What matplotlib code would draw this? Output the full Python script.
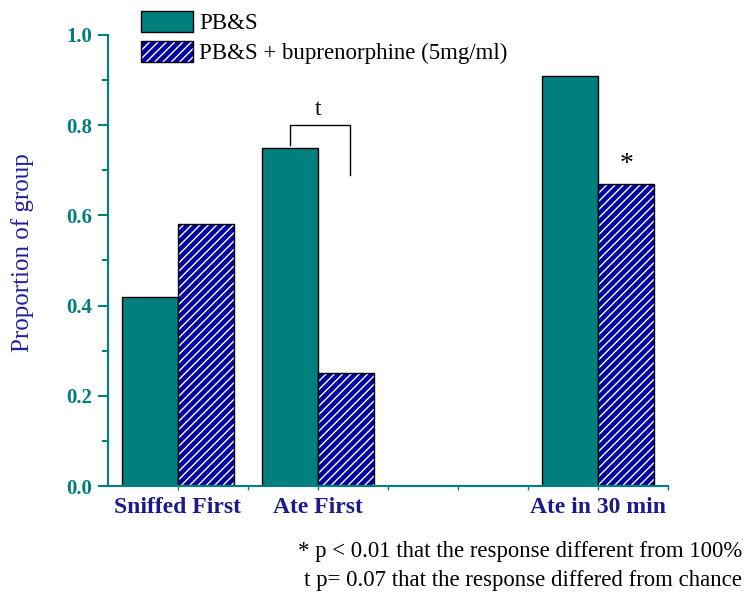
import numpy as np
import matplotlib
matplotlib.use("Agg")
import matplotlib.pyplot as plt
from matplotlib.patches import Patch
from matplotlib.legend_handler import HandlerTuple

categories = ["Sniffed First", "Ate First", "", "Ate in 30 min"]
pbs = [0.42, 0.75, 0.0, 0.91]
bup = [0.58, 0.25, 0.0, 0.67]
ytick_vals = [0.0, 0.2, 0.4, 0.6, 0.8, 1.0]
footnotes = ["* p < 0.01 that the response different from 100%",
             "t p= 0.07 that the response differed from chance"]

teal = "#007F7F"
navy = "#0000A0"
label_blue = "#1A1A8C"

plt.rcParams['font.family'] = ['Liberation Serif', 'DejaVu Serif']
plt.rcParams['hatch.linewidth'] = 1.0

fig = plt.figure(figsize=(7.44, 5.92), dpi=100)
ax = fig.add_axes([0.145, 0.179, 0.753, 0.762])

x = np.arange(len(categories))
w = 0.4
show = [True, True, False, True]
xs = x[show]
ax.bar(xs - w / 2, np.array(pbs)[show], w, color=teal, edgecolor="black", linewidth=1)
ax.bar(xs + w / 2, np.array(bup)[show], w, color=navy, edgecolor="white",
       hatch="////", linewidth=0)
ax.bar(xs + w / 2, np.array(bup)[show], w, fill=False, edgecolor="black", linewidth=1)

ax.set_xlim(-0.5, 3.5)
ax.set_ylim(0, 1.0)
ax.set_yticks(ytick_vals)
ax.set_yticklabels(["%.1f" % v for v in ytick_vals], fontweight="bold",
                   fontsize=15, color=teal)
ax.set_yticks(np.arange(0.1, 1.0, 0.2), minor=True)
ax.set_xticks(x)
ax.set_xticklabels(categories, fontweight="bold", fontsize=17, color=label_blue)
ax.set_xticks(x + 0.5, minor=True)

for s in ["top", "right"]:
    ax.spines[s].set_visible(False)
for s in ["left", "bottom"]:
    ax.spines[s].set_color(teal)
    ax.spines[s].set_linewidth(1.5)
ax.tick_params(axis="y", which="major", length=7, width=1.5, color=teal, pad=4)
ax.tick_params(axis="y", which="minor", length=4, width=1.5, color=teal)
ax.tick_params(axis="x", which="both", length=3, width=1, color=teal, pad=5)

ax.set_ylabel("Proportion of group", fontsize=18, color="#2020A0")
ax.yaxis.set_label_coords(-0.132, 0.518)

# significance bracket for Ate First
ax.plot([0.8, 0.8, 1.23, 1.23], [0.756, 0.8, 0.8, 0.69], color="black", lw=1)
ax.text(1.0, 0.812, "t", ha="center", va="bottom", fontsize=17)
ax.text(3.2, 0.685, "*", ha="center", va="bottom", fontsize=20)

h1 = Patch(facecolor=teal, edgecolor="black", linewidth=1)
h2 = (Patch(facecolor=navy, edgecolor="white", hatch="////", linewidth=0),
      Patch(fill=False, edgecolor="black", linewidth=1))
leg = ax.legend([h1, h2], ["PB&S", "PB&S + buprenorphine (5mg/ml)"],
                handler_map={tuple: HandlerTuple(ndivide=1, pad=0)},
                loc="upper left", bbox_to_anchor=(0.043, 1.073), frameon=False,
                fontsize=16.5, handlelength=2.27, handleheight=1.0,
                handletextpad=0.26, labelspacing=0.3, borderaxespad=0)
for p in leg.get_patches():
    p.set_clip_on(False)

for i, t in enumerate(footnotes):
    fig.text(0.997, 0.068 - i * 0.049, t, ha="right", va="center", fontsize=16.4)

fig.savefig("out.png", dpi=100)
